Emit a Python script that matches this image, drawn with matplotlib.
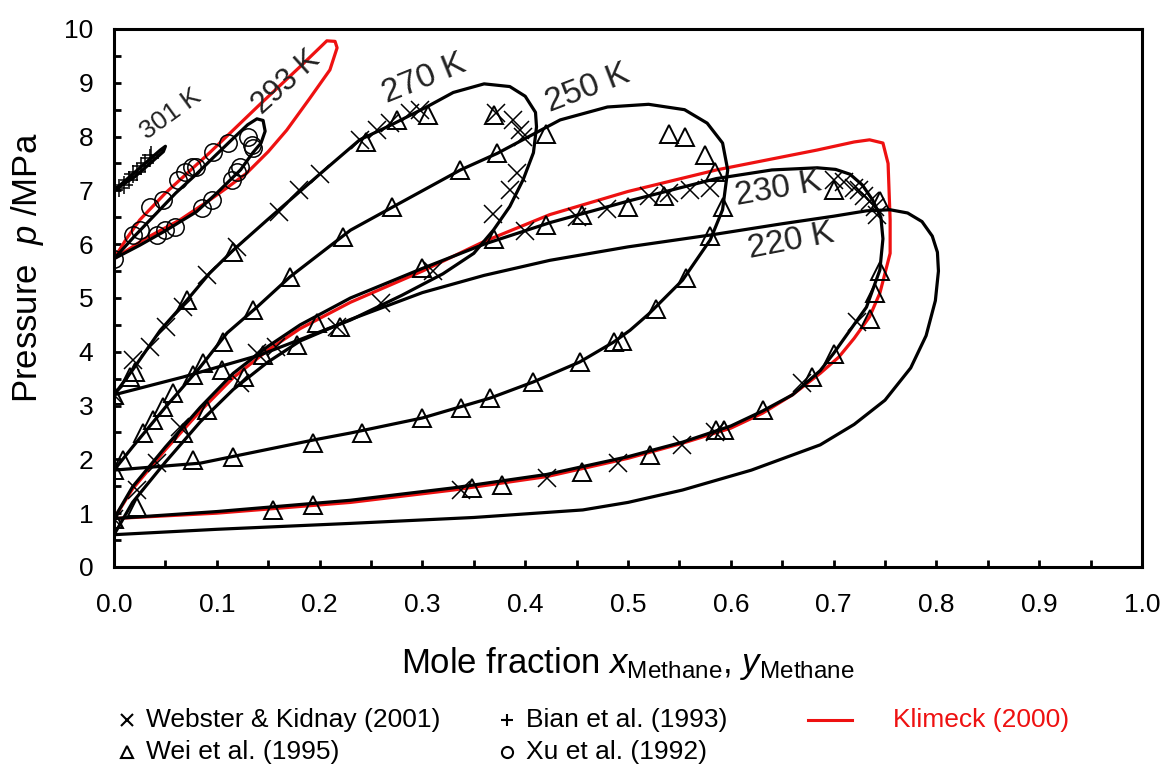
import matplotlib
matplotlib.use("Agg")
import matplotlib.pyplot as plt
from matplotlib.lines import Line2D
from matplotlib.ticker import MultipleLocator

plt.rcParams['font.family'] = ['Liberation Sans', 'DejaVu Sans']
plt.rcParams['mathtext.fontset'] = 'custom'
plt.rcParams['mathtext.rm'] = 'Liberation Sans'
plt.rcParams['mathtext.it'] = 'Liberation Sans:italic'

# ---- calculated phase envelopes (black) ----
x_220 = [0, 0.018, 0.05, 0.084, 0.116, 0.149, 0.181, 0.23, 0.30, 0.36, 0.424, 0.50, 0.58, 0.65, 0.70,
         0.732, 0.755, 0.772, 0.786, 0.796, 0.801, 0.802, 0.799, 0.79, 0.775, 0.75, 0.72, 0.687, 0.62,
         0.553, 0.50, 0.456, 0.35, 0.23, 0.10, 0.0]
p_220 = [0.6, 1.2, 1.95, 2.7, 3.3, 3.8, 4.2, 4.6, 5.1, 5.42, 5.7, 5.95, 6.17, 6.38, 6.52,
         6.62, 6.64, 6.58, 6.42, 6.15, 5.85, 5.5, 4.95, 4.3, 3.7, 3.1, 2.65, 2.27, 1.8,
         1.43, 1.2, 1.06, 0.92, 0.81, 0.7, 0.6]

x_230 = [0, 0.018, 0.05, 0.084, 0.116, 0.149, 0.181, 0.23, 0.30, 0.36, 0.424, 0.50, 0.586, 0.64, 0.684,
         0.702, 0.716, 0.728, 0.738, 0.746, 0.748, 0.745, 0.732, 0.716, 0.70, 0.687, 0.66, 0.631, 0.60,
         0.553, 0.50, 0.421, 0.33, 0.23, 0.10, 0]
p_230 = [0.9, 1.49, 2.23, 2.97, 3.6, 4.09, 4.5, 5.0, 5.55, 6.0, 6.4, 6.8, 7.22, 7.38, 7.42,
         7.39, 7.3, 7.1, 6.82, 6.5, 6.1, 5.52, 4.83, 4.4, 3.97, 3.65, 3.2, 2.9, 2.62,
         2.32, 2.05, 1.72, 1.47, 1.24, 1.03, 0.9]

x_250 = [0, 0.018, 0.05, 0.084, 0.11, 0.139, 0.171, 0.23, 0.271, 0.337, 0.373, 0.434, 0.48, 0.52, 0.555,
         0.577, 0.592, 0.597, 0.592, 0.58, 0.553, 0.52, 0.502, 0.486, 0.453, 0.408, 0.366, 0.30, 0.23,
         0.194, 0.084, 0]
p_250 = [1.8, 2.23, 2.97, 3.72, 4.35, 4.83, 5.39, 6.26, 6.69, 7.38, 7.69, 8.31, 8.55, 8.6, 8.5,
         8.25, 7.88, 7.38, 6.64, 6.08, 5.33, 4.7, 4.4, 4.18, 3.81, 3.44, 3.14, 2.77, 2.49,
         2.36, 1.93, 1.8]

x_270 = [0, 0.018, 0.045, 0.071, 0.093, 0.116, 0.149, 0.2, 0.239, 0.27, 0.304, 0.33, 0.36, 0.385, 0.40,
         0.41, 0.411, 0.408, 0.398, 0.385, 0.369, 0.35, 0.32, 0.28, 0.23, 0.142, 0.067, 0]
p_270 = [3.2, 3.66, 4.4, 4.96, 5.46, 5.89, 6.45, 7.3, 7.94, 8.22, 8.55, 8.82, 8.98, 8.93, 8.75,
         8.45, 8.18, 7.7, 7.2, 6.7, 6.26, 5.83, 5.45, 5.05, 4.59, 3.94, 3.53, 3.2]

x_293 = [0, 0.02, 0.04, 0.06, 0.08, 0.096, 0.115, 0.13, 0.139, 0.145, 0.147, 0.143, 0.135, 0.123, 0.10,
         0.08, 0.05, 0.025, 0]
p_293 = [5.73, 6.15, 6.55, 6.95, 7.3, 7.6, 7.95, 8.22, 8.33, 8.3, 8.1, 7.88, 7.7, 7.38, 6.95,
         6.6, 6.25, 5.98, 5.73]

x_301 = [0, 0.015, 0.03, 0.045, 0.05, 0.048, 0.035, 0.02, 0]
p_301 = [7.0, 7.25, 7.5, 7.75, 7.82, 7.72, 7.5, 7.25, 7.0]

# ---- Klimeck (2000) envelopes (red) ----
x_230_kl = [0, 0.018, 0.05, 0.084, 0.116, 0.149, 0.181, 0.23, 0.30, 0.36, 0.424, 0.50, 0.586, 0.684, 0.72,
            0.735, 0.748, 0.753, 0.755, 0.755, 0.745, 0.735, 0.72, 0.705, 0.687, 0.66, 0.631, 0.60, 0.553,
            0.50, 0.421, 0.33, 0.23, 0.10, 0]
p_230_kl = [0.9, 1.45, 2.18, 2.9, 3.52, 4.02, 4.43, 4.92, 5.5, 6.05, 6.55, 6.98, 7.38, 7.75, 7.9,
            7.94, 7.88, 7.5, 6.45, 5.83, 5.09, 4.65, 4.25, 3.9, 3.6, 3.2, 2.86, 2.58, 2.3,
            2.02, 1.68, 1.43, 1.2, 1.0, 0.9]

x_293_kl = [0, 0.012, 0.025, 0.05, 0.093, 0.142, 0.181, 0.2, 0.207, 0.215, 0.217, 0.21, 0.19, 0.168, 0.15,
            0.129, 0.11, 0.093, 0.064, 0.03, 0]
p_293_kl = [5.73, 6.1, 6.45, 6.95, 7.7, 8.6, 9.3, 9.65, 9.78, 9.77, 9.65, 9.24, 8.7, 8.12, 7.72,
            7.32, 7.05, 6.82, 6.45, 6.1, 5.73]

# ---- experimental data ----
x_webster = [0, 0.018, 0.035, 0.051, 0.067, 0.09, 0.12, 0.16, 0.18, 0.2, 0.239, 0.256, 0.268, 0.288, 0.298,
             0.372, 0.388, 0.395, 0.398, 0.392, 0.385, 0.369,
             0, 0.022, 0.042, 0.064, 0.123, 0.139, 0.158, 0.217, 0.26, 0.31, 0.4, 0.45, 0.48, 0.52, 0.54,
             0.56, 0.58, 0.70, 0.71, 0.72, 0.725, 0.73, 0.735, 0.74, 0.742,
             0.723, 0.669, 0.585, 0.553, 0.49, 0.421, 0.338]
p_webster = [3.2, 3.85, 4.09, 4.46, 4.83, 5.43, 5.95, 6.6, 7.0, 7.3, 7.94, 8.12, 8.25, 8.44, 8.5,
             8.43, 8.31, 8.12, 7.99, 7.32, 7.0, 6.57,
             0.9, 1.43, 1.93, 2.6, 3.42, 3.98, 4.09, 4.46, 4.9, 5.5, 6.25, 6.5, 6.65, 6.9, 6.95,
             7.0, 7.05, 7.2, 7.15, 7.05, 7.0, 6.9, 6.8, 6.7, 6.55,
             4.55, 3.42, 2.51, 2.27, 1.93, 1.65, 1.43]

x_wei = [0, 0.009, 0.028, 0.038, 0.048, 0.057, 0.087, 0.106, 0.135, 0.171, 0.223, 0.27, 0.337, 0.373, 0.42,
         0.54, 0.555, 0.575, 0.585, 0.592, 0.58, 0.556, 0.527, 0.494,
         0.077, 0.116, 0.194, 0.241, 0.30, 0.338, 0.366, 0.408, 0.453, 0.486,
         0, 0.016, 0.02, 0.077, 0.105, 0.145, 0.178, 0.22, 0.116, 0.071, 0.245, 0.275, 0.305, 0.37,
         0, 0.022, 0.067, 0.09, 0.126, 0.197, 0.3, 0.37, 0.42, 0.455, 0.5, 0.535,
         0.7, 0.745, 0.745, 0.74, 0.735, 0.7, 0.679, 0.631, 0.593, 0.586, 0.521, 0.455, 0.377, 0.348,
         0.194, 0.155]
p_wei = [1.8, 1.99, 2.49, 2.73, 2.97, 3.23, 3.79, 4.18, 4.78, 5.39, 6.13, 6.7, 7.38, 7.69, 8.05,
         8.05, 8.0, 7.65, 7.35, 6.7, 6.15, 5.38, 4.8, 4.2,
         1.99, 2.05, 2.3, 2.49, 2.77, 2.96, 3.14, 3.44, 3.81, 4.18,
         3.2, 3.53, 3.62, 3.57, 3.66, 3.94, 4.13, 4.46, 5.85, 4.96, 7.9, 8.3, 8.4, 8.4,
         0.9, 1.12, 2.49, 2.92, 3.53, 4.53, 5.55, 6.1, 6.35, 6.55, 6.7, 6.9,
         7.0, 6.8, 5.5, 5.1, 4.6, 3.95, 3.53, 2.92, 2.55, 2.55, 2.08, 1.77, 1.52, 1.47,
         1.15, 1.06]

x_bian = [0, 0.005, 0.01, 0.015, 0.018, 0.022, 0.026, 0.03, 0.035, 0.036]
p_bian = [7.0, 7.05, 7.1, 7.2, 7.3, 7.35, 7.45, 7.5, 7.6, 7.65]

x_xu = [0, 0.018, 0.025, 0.042, 0.05, 0.059, 0.035, 0.048, 0.062, 0.069, 0.076, 0.08, 0.096, 0.111, 0.13,
        0.134, 0.135, 0.123, 0.12, 0.115, 0.095, 0.086]
p_xu = [5.73, 6.17, 6.26, 6.17, 6.26, 6.32, 6.7, 6.82, 7.19, 7.34, 7.43, 7.43, 7.71, 7.88, 7.99,
        7.84, 7.78, 7.43, 7.34, 7.19, 6.82, 6.67]

# temperature labels: text, x, p, rotation, size
iso_labels = [("301 K", 0.032, 7.94, 36, 19), ("293 K", 0.144, 8.4, 42, 22),
              ("270 K", 0.266, 8.63, 22, 24), ("250 K", 0.424, 8.46, 21, 24),
              ("230 K", 0.606, 6.73, 10, 24), ("220 K", 0.619, 5.74, 11, 24)]

RED = '#ee1111'
fig = plt.figure(figsize=(11.66, 7.67), dpi=100)
ax = fig.add_axes([0.0978, 0.2608, 0.8816, 0.7014])

for xs, ps in [(x_220, p_220), (x_230, p_230), (x_250, p_250), (x_270, p_270), (x_293, p_293), (x_301, p_301)]:
    ax.plot(xs, ps, color='black', lw=2.3, solid_joinstyle='round', zorder=3)
for xs, ps in [(x_230_kl, p_230_kl), (x_293_kl, p_293_kl)]:
    ax.plot(xs, ps, color=RED, lw=2.3, solid_joinstyle='round', zorder=2)

mk = dict(linestyle='none', markerfacecolor='none', markeredgecolor='black', zorder=4)
ax.plot(x_webster, p_webster, marker='x', markersize=13, markeredgewidth=1.1, **mk)
ax.plot(x_wei, p_wei, marker='^', markersize=13, markeredgewidth=1.4, **mk)
ax.plot(x_bian, p_bian, marker='+', markersize=13, markeredgewidth=1.1, **mk)
ax.plot(x_xu, p_xu, marker='o', markersize=12.5, markeredgewidth=1.1, **mk)

for txt, tx, ty, rot, fs in iso_labels:
    ax.text(tx, ty, txt, rotation=rot, fontsize=fs, color='#222222',
            ha='left', va='baseline', rotation_mode='anchor')

ax.set_xlim(0, 1)
ax.set_ylim(0, 10)
ax.xaxis.set_major_locator(MultipleLocator(0.1))
ax.xaxis.set_minor_locator(MultipleLocator(0.05))
ax.yaxis.set_major_locator(MultipleLocator(1))
ax.yaxis.set_minor_locator(MultipleLocator(0.5))
ax.set_xticklabels([f"{v:.1f}" for v in ax.get_xticks()])
ax.tick_params(which='both', direction='in', length=5, width=2, labelsize=19,
               top=False, right=False)
ax.tick_params(axis='x', pad=19)
ax.tick_params(axis='y', pad=15)
for s in ax.spines.values():
    s.set_linewidth(2.2)

ax.set_xlabel(r"Mole fraction $x_{\mathrm{Methane}}$, $y_{\mathrm{Methane}}$", fontsize=25)
ax.xaxis.set_label_coords(0.5, -0.145)
ax.set_ylabel(r"Pressure  $p$ /MPa", fontsize=25)
ax.yaxis.set_label_coords(-0.066, 0.557)

# legend drawn below the axes
W, H = 1166.0, 767.0
def fx(px):
    return px / W
def fy(py):
    return 1 - py / H

entries = [('x', 127, 720, "Webster & Kidnay (2001)"), ('^', 127, 752, "Wei et al. (1995)"),
           ('+', 507, 720, "Bian et al. (1993)"), ('o', 507, 752, "Xu et al. (1992)")]
for m, px, py, label in entries:
    fig.add_artist(Line2D([fx(px)], [fy(py)], marker=m, markersize=8, markeredgewidth=1.5,
                          markerfacecolor='none', markeredgecolor='black', linestyle='none'))
    fig.text(fx(px + 19), fy(py), label, fontsize=19, va='center', ha='left')
fig.add_artist(Line2D([fx(808), fx(852)], [fy(720), fy(720)], color=RED, lw=2.2))
fig.text(fx(893), fy(720), "Klimeck (2000)", fontsize=19, va='center', ha='left', color=RED)

fig.savefig("out.png", dpi=100)
